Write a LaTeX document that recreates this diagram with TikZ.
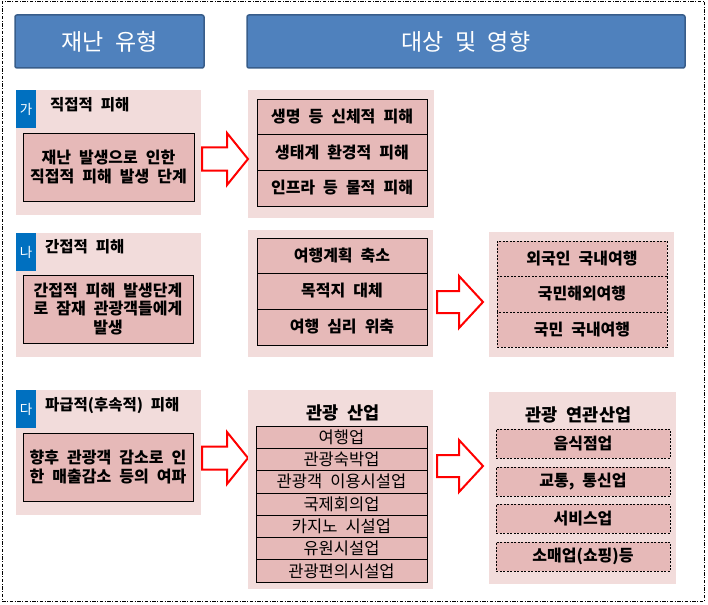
\documentclass[tikz,border=0pt]{standalone}
\usepackage{fontspec}
\setmainfont{Noto Sans CJK KR}[WordSpace=2.2]
\definecolor{hdrblue}{HTML}{4F81BD}
\definecolor{hdrline}{HTML}{385D8A}
\definecolor{panelpink}{HTML}{F2DCDB}
\definecolor{boxpink}{HTML}{E6B9B8}
\definecolor{tagblue}{HTML}{0070C0}
\definecolor{arrowred}{HTML}{FF0000}
\begin{document}
\begin{tikzpicture}[x=1pt,y=-1pt,
  header/.style={draw=hdrline, line width=1.5pt, fill=hdrblue, rounded corners=2pt,
    text=white, font=\fontsize{23}{27}\selectfont, inner sep=0pt},
  panel/.style={fill=panelpink, draw=none, inner sep=0pt},
  tagbox/.style={fill=tagblue, draw=none, text=white, font=\fontsize{13.5}{15}\selectfont, inner sep=0pt},
  tagtitle/.style={font=\bfseries\fontsize{15.5}{18}\selectfont, anchor=west, inner sep=0pt},
  grouptitle/.style={font=\bfseries\fontsize{17.5}{20}\selectfont, inner sep=0pt},
  srcbox/.style={draw=black, line width=0.8pt, fill=boxpink, align=center,
    font=\bfseries\fontsize{16}{18.5}\selectfont, inner sep=0pt},
  cellbox/.style={draw=black, line width=0.8pt, fill=boxpink,
    font=\bfseries\fontsize{16}{18}\selectfont, inner sep=0pt},
  thincell/.style={draw=black, line width=0.8pt, fill=boxpink,
    font=\fontsize{16.5}{18}\selectfont, inner sep=0pt, minimum width=171pt, minimum height=22.3pt},
  dcell/.style={cellbox, dash pattern=on 2pt off 1.5pt},
  bigarrow/.style={draw=arrowred, fill=white, line width=2pt, line join=miter},
  outerframe/.style={draw=black, line width=0.8pt, dash pattern=on 3.5pt off 1.5pt on 1pt off 1.5pt}]

\useasboundingbox (0,0) rectangle (708,604);
\draw[outerframe] (2,1) rectangle (704,601);

% headers
\node[header, minimum width=189pt, minimum height=53pt] (h1) at (109.5,41.5) {재난 유형};
\node[header, minimum width=438pt, minimum height=53pt] (h2) at (466,41.5) {대상 및 영향};

% ---------- row 1 ----------
\node[panel, minimum width=185pt, minimum height=125pt] (p1) at (108.5,152.5) {};
\node[tagbox, minimum width=20pt, minimum height=38pt] (t1) at (26,109) {가};
\node[tagtitle] (l1) at (50,105) {직접적 피해};
\node[srcbox, minimum width=171pt, minimum height=68pt] (b1) at (108.5,167)
  {재난 발생으로 인한\\직접적 피해 발생 단계};

\node[panel, minimum width=186pt, minimum height=128pt] (m1) at (341,154) {};
\node[cellbox, minimum width=170pt, minimum height=35pt] (m1a) at (342,116.5) {생명 등 신체적 피해};
\node[cellbox, minimum width=170pt, minimum height=36pt] (m1b) at (342,152) {생태계 환경적 피해};
\node[cellbox, minimum width=170pt, minimum height=36pt] (m1c) at (342,188) {인프라 등 물적 피해};

\draw[bigarrow] (202,147.5) -- (227,147.5) -- (227,133) -- (248,159) -- (227,185)
  -- (227,170.5) -- (202,170.5) -- cycle;

% ---------- row 2 ----------
\node[panel, minimum width=185pt, minimum height=124pt] (p2) at (108.5,295) {};
\node[tagbox, minimum width=20pt, minimum height=38pt] (t2) at (26,252) {나};
\node[tagtitle] (l2) at (45,247) {간접적 피해};
\node[srcbox, minimum width=170pt, minimum height=68pt] (b2) at (108,309)
  {간접적 피해 발생단계\\로 잠재 관광객들에게\\발생};

\node[panel, minimum width=185pt, minimum height=127pt] (m2) at (340.5,293.5) {};
\node[cellbox, minimum width=170pt, minimum height=35pt] (m2a) at (342,255.5) {여행계획 축소};
\node[cellbox, minimum width=170pt, minimum height=36pt] (m2b) at (342,291) {목적지 대체};
\node[cellbox, minimum width=170pt, minimum height=36pt] (m2c) at (342,327) {여행 심리 위축};

\draw[bigarrow] (437,291) -- (459,291) -- (459,276) -- (483,302) -- (459,328)
  -- (459,313) -- (437,313) -- cycle;

\node[panel, minimum width=185pt, minimum height=125pt] (r2) at (581.5,294.5) {};
\node[dcell, minimum width=170pt, minimum height=35pt] (r2a) at (582,258.5) {외국인 국내여행};
\node[dcell, minimum width=170pt, minimum height=36pt] (r2b) at (582,294) {국민해외여행};
\node[dcell, minimum width=170pt, minimum height=35pt] (r2c) at (582,329.5) {국민 국내여행};

% ---------- row 3 ----------
\node[panel, minimum width=185pt, minimum height=125pt] (p3) at (108.5,452.5) {};
\node[tagbox, minimum width=20pt, minimum height=38pt] (t3) at (26,409) {다};
\node[tagtitle] (l3) at (45,406) {파급적(후속적) 피해};
\node[srcbox, minimum width=170pt, minimum height=68pt] (b3) at (108,467)
  {향후 관광객 감소로 인\\한 매출감소 등의 여파};

\draw[bigarrow] (202,446.5) -- (227,446.5) -- (227,432) -- (248,458) -- (227,484)
  -- (227,469.5) -- (202,469.5) -- cycle;

\node[panel, minimum width=185pt, minimum height=199pt] (m3) at (340.5,489.5) {};
\node[grouptitle] (m3t) at (343,413) {관광 산업};
\node[thincell] (m3a) at (341.5,437.15) {여행업};
\node[thincell] (m3b) at (341.5,459.45) {관광숙박업};
\node[thincell] (m3c) at (341.5,481.75) {관광객 이용시설업};
\node[thincell] (m3d) at (341.5,504.05) {국제회의업};
\node[thincell] (m3e) at (341.5,526.35) {카지노 시설업};
\node[thincell] (m3f) at (341.5,548.65) {유원시설업};
\node[thincell] (m3g) at (341.5,570.95) {관광편의시설업};

\draw[bigarrow] (437,455) -- (459,455) -- (459,440) -- (483,466) -- (459,492)
  -- (459,477) -- (437,477) -- cycle;

\node[panel, minimum width=187pt, minimum height=192pt] (r3) at (582.5,488) {};
\node[grouptitle] (r3t) at (578.5,415) {관광 연관산업};
\node[dcell, minimum width=174pt, minimum height=29pt] (r3a) at (583,443.5) {음식점업};
\node[dcell, minimum width=174pt, minimum height=29pt] (r3b) at (583,481.5) {교통, 통신업};
\node[dcell, minimum width=174pt, minimum height=29pt] (r3c) at (583,518.5) {서비스업};
\node[dcell, minimum width=174pt, minimum height=29pt] (r3d) at (583,556.5) {소매업(쇼핑)등};

\end{tikzpicture}
\end{document}
